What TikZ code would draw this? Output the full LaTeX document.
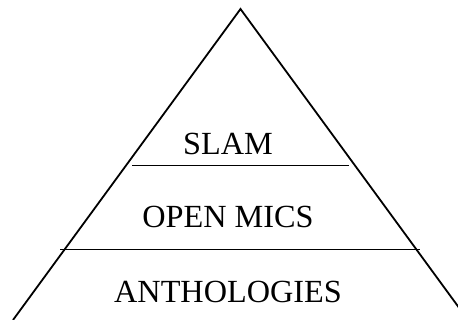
\documentclass[tikz,border=0pt]{standalone}
\usepackage{fontspec}
\setmainfont{Liberation Serif}
\begin{document}
\begin{tikzpicture}[x=0.75pt,y=-0.75pt,
                tier/.style={anchor=base,inner sep=0pt,font=\fontsize{24.2}{28}\selectfont},
                edge/.style={line width=1.35pt}]
                \useasboundingbox (0,0) rectangle (458,320);
                \clip (0,0) rectangle (458,320);
                % pyramid
                \coordinate (top) at (240.5,9);
                \coordinate (bl) at (13,320);
                \coordinate (br) at (468,320);
                \draw[edge] (bl) -- (top) -- (br);
                % dividers
                \coordinate (up-l) at (132,165.5);
                \coordinate (up-r) at (349,165.5);
                \coordinate (lo-l) at (60,249.5);
                \coordinate (lo-r) at (420,249.5);
                \draw[edge] (up-l) -- (up-r);
                \draw[edge] (lo-l) -- (lo-r);
                % labels
                \node[tier] (slam) at (228,155) {SLAM};
                \node[tier] (mics) at (228,228) {OPEN MICS};
                \node[tier] (anth) at (228,303) {ANTHOLOGIES};
\end{tikzpicture}
\end{document}
